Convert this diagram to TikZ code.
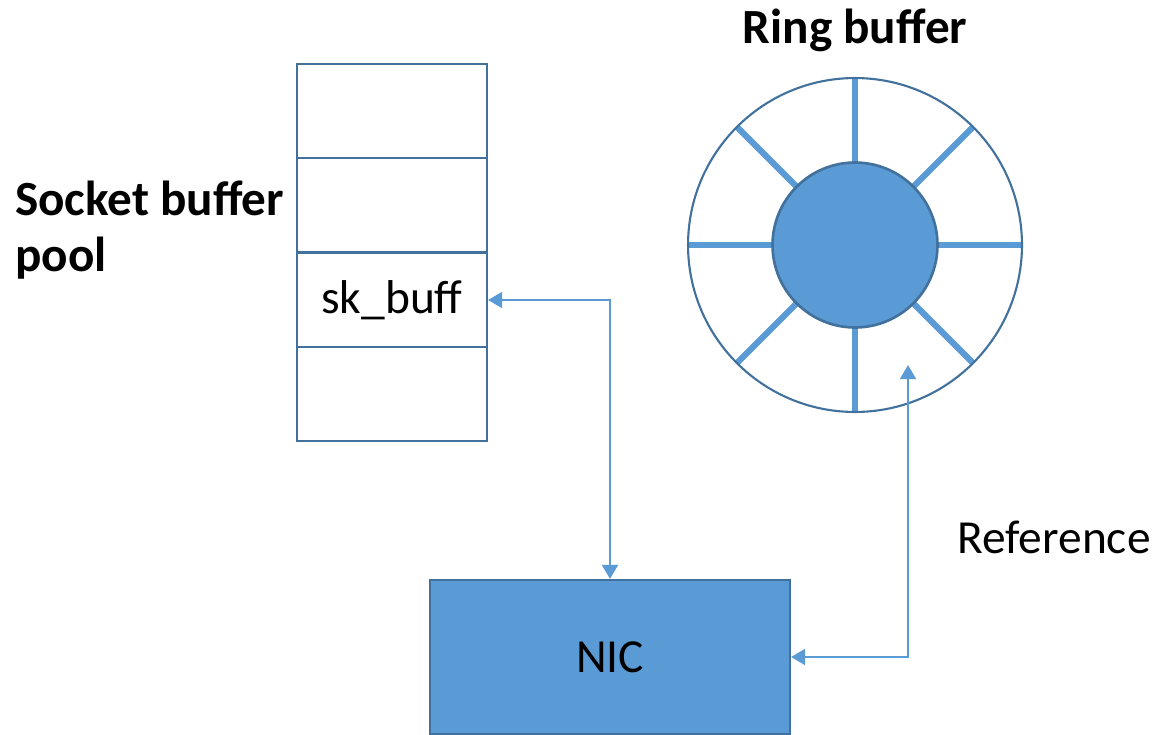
\documentclass[tikz,border=0pt]{standalone}
\usepackage{fontspec}
\setmainfont{Carlito}
\usetikzlibrary{arrows.meta}
\definecolor{fillblue}{RGB}{91,155,213}
\definecolor{edgeblue}{RGB}{65,113,156}
\tikzset{
  cell/.style={draw=edgeblue, line width=1.2pt, minimum width=3.8cm, minimum height=1.88cm, inner sep=0pt},
  link/.style={draw=fillblue, line width=1.4pt, {Triangle[length=8pt,width=9pt]}-{Triangle[length=8pt,width=9pt]}},
  spoke/.style={draw=fillblue, line width=3.6pt},
  big/.style={font=\fontsize{27}{32}\selectfont},
  title/.style={font=\fontsize{28}{32}\selectfont\bfseries},
}
\begin{document}
\begin{tikzpicture}[x=0.02cm, y=-0.02cm]
  \useasboundingbox (0,0) rectangle (1158,734);
  \node[cell] (row1) at (392,111) {};
  \node[cell] (row2) at (392,205) {};
  \node[cell, big] (row3) at (392,300) {sk\_buff};
  \node[cell] (row4) at (392,394) {};
  \node[title, align=left, anchor=west] (poollabel) at (9,230) {Socket buffer\\pool};
  \coordinate (hub) at (855,245);
  \foreach \a in {0,45,...,315}
    \draw[spoke] (hub) ++(\a:1.66cm) -- ++(\a:1.68cm);
  \node[circle, draw=edgeblue, line width=1.2pt, minimum size=6.68cm, inner sep=0pt] (ring) at (hub) {};
  \node[circle, draw=edgeblue, fill=fillblue, line width=1.5pt, minimum size=3.3cm, inner sep=0pt] (core) at (hub) {};
  \node[title] (ringlabel) at (855,30) {Ring buffer};
  \node[draw=edgeblue, fill=fillblue, line width=1.2pt, minimum width=7.2cm, minimum height=3.08cm, big] (nic) at (610,657) {NIC};
  \coordinate (slot) at (908,365);
  \draw[link] (row3.east) -| (nic.north);
  \draw[link] (nic.east) -| (slot);
  \node[big] (reflabel) at (1054,537) {Reference};
\end{tikzpicture}
\end{document}
